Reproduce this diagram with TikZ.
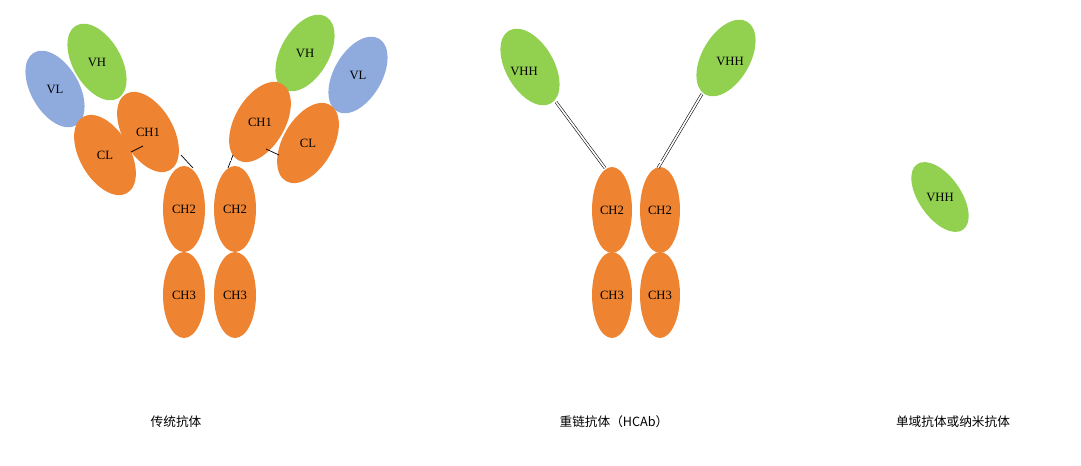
\documentclass[tikz,border=0pt]{standalone}
\usepackage{fontspec}
\setmainfont{Liberation Serif}
\newfontfamily\cjk{Noto Sans CJK SC}
\usetikzlibrary{shapes.geometric,positioning}
\definecolor{dorange}{HTML}{EE8432}
\definecolor{dgreen}{HTML}{92D050}
\definecolor{dblue}{HTML}{8FAADC}
\begin{document}
\begin{tikzpicture}[
    x=0.025cm, y=-0.025cm,
    dom/.style={ellipse, inner sep=0pt, minimum width=2.2cm, minimum height=1.25cm},
    hch/.style={dom, fill=dorange},
    vh/.style={dom, fill=dgreen, minimum width=2.1cm, minimum height=1.2cm},
    vl/.style={dom, fill=dblue, minimum width=2.1cm, minimum height=1.2cm},
    fc/.style={ellipse, fill=dorange, inner sep=0pt, minimum width=1.05cm, minimum height=2.15cm},
    lbl/.style={font=\small},
    captxt/.style={font=\cjk\small},
    bond/.style={draw=black, double=white, double distance=1.2pt, line width=0.4pt},
    link/.style={draw=black, line width=0.5pt},
  ]
  \useasboundingbox (0,0) rectangle (1081,466);

  % Conventional antibody
  \node[fc] (c2a) at (184,209) {};
  \node[fc] (c2b) at (235,209) {};
  \node[fc] (c3a) at (184,295) {};
  \node[fc] (c3b) at (235,295) {};
  \node[vl, rotate=-60] (vla) at (55,89) {};
  \node[vh, rotate=-60] (vha) at (97,62) {};
  \node[hch, rotate=-60] (cla) at (105,155) {};
  \node[hch, rotate=-60] (c1a) at (148,132) {};
  \node[vl, rotate=60] (vlb) at (358,75) {};
  \node[vh, rotate=60] (vhb) at (305,53) {};
  \node[hch, rotate=60] (clb) at (308,143) {};
  \node[hch, rotate=60] (c1b) at (260,122) {};
  \node[lbl] at (c2a) {CH2};
  \node[lbl] at (c2b) {CH2};
  \node[lbl] at (c3a) {CH3};
  \node[lbl] at (c3b) {CH3};
  \node[lbl] at (vla) {VL};
  \node[lbl] at (vha) {VH};
  \node[lbl] at (cla) {CL};
  \node[lbl] at (c1a) {CH1};
  \node[lbl] at (vlb) {VL};
  \node[lbl] at (vhb) {VH};
  \node[lbl] at (clb) {CL};
  \node[lbl] at (c1b) {CH1};

  % hinge and light-chain links
  \coordinate (ha1) at (181,155);
  \coordinate (ha2) at (193,168);
  \coordinate (hb1) at (233,155);
  \coordinate (hb2) at (228,168);
  \draw[link] (ha1) -- (ha2);
  \draw[link] (hb1) -- (hb2);
  \draw[bond] (187,160) -- (231,160);
  \draw[link] (131,152) -- (143,146);
  \draw[link] (266,149) -- (279,155);

  % Heavy-chain antibody
  \node[fc, minimum width=1.0cm] (m2a) at (612,210) {};
  \node[fc, minimum width=1.0cm] (m2b) at (660,210) {};
  \node[fc, minimum width=1.0cm] (m3a) at (612,295) {};
  \node[fc, minimum width=1.0cm] (m3b) at (660,295) {};
  \node[vh, rotate=-60] (vhha) at (530,67) {};
  \node[vh, rotate=60] (vhhb) at (726,58) {};
  \node[lbl] at (m2a) {CH2};
  \node[lbl] at (m2b) {CH2};
  \node[lbl] at (m3a) {CH3};
  \node[lbl] at (m3b) {CH3};
  \node[lbl] at (524,71) {VHH};
  \node[lbl] at (730,61) {VHH};
  \coordinate (ma) at (605,168);
  \coordinate (mb) at (658,168);
  \draw[bond] (556,102) -- (ma);
  \draw[bond] (702,94) -- (mb);
  \draw[bond] (603,162) -- (661,162);

  % Single-domain antibody
  \node[vh, rotate=-55, minimum width=2.0cm, minimum height=1.05cm] (nano) at (940,197) {};
  \node[lbl] at (nano) {VHH};

  % captions
  \node[captxt] (t1) at (176,422) {传统抗体};
  \node[captxt] (t2) at (614,422) {重链抗体（HCAb）};
  \node[captxt] (t3) at (953,422) {单域抗体或纳米抗体};
\end{tikzpicture}
\end{document}
